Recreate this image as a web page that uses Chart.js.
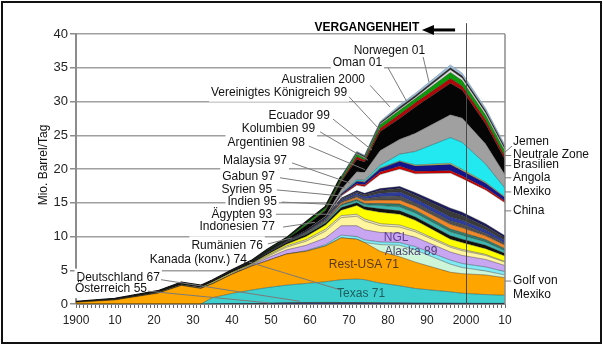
<!DOCTYPE html>
<html><head><meta charset="utf-8">
<script src="https://cdn.jsdelivr.net/npm/chart.js@4.4.1/dist/chart.umd.min.js"></script>
<style>html,body{margin:0;padding:0;background:#fff}#wrap{width:603px;height:345px;position:relative}canvas{display:block}</style>
</head><body><div id="wrap"><canvas id="c" width="603" height="345"></canvas></div>
<script>
// ---------- data (Mio. Barrel/Tag) ----------
const years = [1900,1910,1921,1927,1932,1935,1940,1945,1949,1954,1959,1964,1968,1972,1974,1978,1983,1987,1996,1999,2005,2010];

const oesterreich  = [0,0,0,0,0,0.02,0.05,0.05,0.08,0.12,0.12,0.12,0.1,0.1,0.1,0.1,0.09,0.08,0.07,0.06,0.05,0.05];
const deutschland  = [0,0,0,0,0,0.02,0.03,0.03,0.05,0.08,0.1,0.12,0.12,0.12,0.11,0.1,0.09,0.08,0.07,0.06,0.05,0.05];
const texas        = [0,0,0,0,0,0.9,1.49,1.99,2.3,2.6,2.83,3.06,3.38,3.48,3.39,2.9,2.52,2.14,1.66,1.48,1.3,1.2];
const restUSA      = [0.25,0.6,1.6,2.75,2.3,2.06,2.83,3.53,3.97,4.6,4.75,5.3,6.2,5.9,5.5,4.7,4.3,3.9,2.9,2.9,2.9,2.6];
const alaska       = [0,0,0,0,0,0,0,0,0,0,0,0,0,0,0,1.0,1.7,1.8,1.2,0.9,0.6,0.4];
const golfMexiko   = [0,0,0,0,0,0,0,0,0,0.02,0.1,0.2,0.4,0.4,0.4,0.4,0.4,0.5,0.6,0.6,0.6,0.5];
const ngl          = [0,0,0,0,0,0,0,0.1,0.4,0.6,0.8,1.0,1.4,1.6,1.5,1.4,1.4,1.4,1.2,1.2,1.1,0.9];
const kanada       = [0,0,0,0,0,0,0.05,0.08,0.2,0.4,0.6,1.0,1.2,1.4,1.3,1.0,0.9,0.8,0.7,0.7,0.6,0.5];
const rumaenien    = [0.01,0.03,0.05,0.07,0.1,0.15,0.15,0.1,0.15,0.2,0.25,0.3,0.3,0.3,0.3,0.3,0.3,0.25,0.2,0.2,0.15,0.1];
const indonesien   = [0.01,0.03,0.05,0.05,0.05,0.1,0.1,0.07,0.15,0.25,0.45,0.6,0.8,1.3,1.4,1.7,1.6,1.45,1.0,1.0,0.85,0.8];
const aegypten     = [0.03,0.09,0.2,0.25,0.2,0.15,0.2,0.2,0.2,0.2,0.3,0.3,0.4,0.4,0.4,0.5,0.5,0.5,0.5,0.5,0.5,0.4];
const indien       = [0,0,0,0,0,0,0,0,0.02,0.05,0.1,0.15,0.3,0.3,0.3,0.5,0.6,0.6,0.6,0.6,0.5,0.4];
const syrien       = [0,0,0,0,0,0,0,0,0,0,0.03,0.05,0.15,0.2,0.2,0.3,0.4,0.4,0.4,0.4,0.35,0.3];
const gabun        = [0,0,0,0,0,0,0,0,0,0.02,0.05,0.1,0.25,0.3,0.4,0.5,0.6,0.6,0.7,0.7,0.55,0.5];
const malaysia     = [0,0,0,0,0,0,0,0.02,0.05,0.08,0.15,0.2,0.2,0.3,0.3,0.5,0.6,0.5,0.5,0.5,0.4,0.3];
const argentinien  = [0,0,0,0.01,0.03,0.04,0.05,0.06,0.07,0.08,0.1,0.15,0.2,0.3,0.3,0.5,0.6,0.6,0.6,0.6,0.5,0.4];
const kolumbien    = [0,0,0,0.02,0.03,0.05,0.06,0.06,0.08,0.1,0.1,0.15,0.2,0.2,0.3,0.4,0.5,0.5,0.8,0.7,0.5,0.4];
const ecuador      = [0,0,0,0,0,0,0,0,0,0,0,0,0.1,0.2,0.2,0.3,0.3,0.4,0.5,0.5,0.4,0.3];
const china        = [0,0,0,0,0,0,0,0,0,0,0,0,0.3,0.8,1.0,2.1,2.6,2.8,5.2,5.0,5.0,4.9];
const vereinigtesK = [0,0,0,0,0,0,0,0,0,0,0,0,0.1,0.2,0.25,0.35,0.4,0.35,0.35,0.35,0.3,0.25];
const australien   = [0,0,0,0,0,0,0,0,0,0,0,0,0.15,0.35,0.4,0.5,0.7,0.8,0.9,0.8,0.7,0.5];
const oman         = [0,0,0,0,0,0,0,0,0,0,0,0,0,0.05,0.08,0.1,0.1,0.15,0.2,0.2,0.15,0.1];
const mexiko       = [0,0,0,0,0,0,0,0,0,0,0,0,0.1,0.2,0.2,0.4,1.0,2.0,3.8,4.0,2.7,1.3];
const norwegen     = [0,0,0,0,0,0,0,0,0,0,0.1,0.2,0.6,1.2,1.2,2.2,2.2,2.7,3.4,3.6,3.0,2.0];
const uebrige      = [0,0,0,0,0,0,0,0.05,0.12,0.2,0.7,0.85,1.2,1.8,1.5,2.8,3.1,3.9,4.65,4.15,2.95,2.25];
const angola       = [0,0,0,0,0,0,0,0,0,0,0.05,0.1,0.2,0.4,0.3,0.5,0.6,0.6,0.7,0.6,0.6,0.5];
const brasilien    = [0,0,0,0,0,0,0,0.03,0.08,0.1,0.3,0.3,0.3,0.4,0.3,0.5,0.6,0.6,0.9,0.8,0.7,0.7];
const neutraleZone = [0,0,0,0,0,0,0,0,0,0,0,0,0.05,0.1,0.1,0.15,0.2,0.2,0.4,0.4,0.35,0.3];
const sonstige     = [0,0,0,0,0,0,0,0.03,0.08,0.08,0.15,0.15,0.15,0.2,0.2,0.2,0.3,0.3,0.3,0.3,0.3,0.3];
const jemen        = [0,0,0,0,0,0,0,0,0,0,0,0,0.05,0.1,0.1,0.15,0.3,0.3,0.4,0.4,0.35,0.3];

const xTickValues = [1900,1910,1920,1930,1940,1950,1960,1970,1980,1990,2000,2010];
const xTickLabels = ['1900','10','20','30','40','50','60','70','80','90','2000','10'];
const yTickValues = [0,5,10,15,20,25,30,35,40];

// ---------- series table (bottom to top) ----------
const layers = [
  ['Österreich', oesterreich], ['Deutschland', deutschland], ['Texas', texas], ['Rest-USA', restUSA],
  ['Alaska', alaska], ['Golf von Mexiko', golfMexiko], ['NGL', ngl], ['Kanada (konv.)', kanada],
  ['Rumänien', rumaenien], ['Indonesien', indonesien], ['Ägypten', aegypten], ['Indien', indien],
  ['Syrien', syrien], ['Gabun', gabun], ['Malaysia', malaysia], ['Argentinien', argentinien],
  ['Kolumbien', kolumbien], ['Ecuador', ecuador], ['China', china], ['Vereinigtes Königreich', vereinigtesK],
  ['Australien', australien], ['Oman', oman], ['Mexiko', mexiko], ['Norwegen', norwegen],
  ['Übrige', uebrige], ['Angola', angola], ['Brasilien', brasilien], ['Neutrale Zone', neutraleZone],
  ['Sonstige', sonstige], ['Jemen', jemen]
];
const colors = ['#1B2A80','#222222','#3ECFCF','#FFA500','#CCF5D9','#7FE9F5','#C8A6F2','#FFF59E',
  '#EDE8B8','#FFFF00','#111111','#3DB8B0','#2F7E6E','#F0882A','#505050','#2E3C9C',
  '#3A3A3A','#1B1B5E','#FFFFFF','#D40000','#14148C','#D8D060','#22E8F0','#A0A0A0',
  '#050505','#B00808','#0A9A0A','#E0E0E0','#2A2A2A','#A8C4DC'];

const lastIdx = layers.length - 1;
const datasets = layers.map(([name, vals], i) => ({
  label: name,
  data: years.map((yr, k) => ({x: yr, y: vals[k]})),
  backgroundColor: colors[i],
  borderColor: i === lastIdx ? '#7f9fbf' : 'rgba(25,25,25,0.55)',
  borderWidth: 0.7,
  segment: i === lastIdx ? {
    borderColor: c => c.p0.parsed.x < 1968 ? '#111111' : '#7f9fbf',
    borderWidth: c => c.p0.parsed.x < 1968 ? 2.2 : 0.8
  } : undefined,
  fill: i === 0 ? 'origin' : '-1',
  pointRadius: 0,
  tension: 0
}));

// ---------- annotations (placed in data coordinates) ----------
const leftNotes = [
  {t:'Norwegen 01', at:[1989.5,37.6], from:[1989.0,36.6], to:[1990.5,32.9]},
  {t:'Oman 01', at:[1978.5,35.7], from:[1980.0,35.0], to:[1984.9,29.9]},
  {t:'Australien 2000', at:[1974.1,33.2], from:[1975.4,32.4], to:[1980.5,29.2]},
  {t:'Vereinigtes Königreich 99', at:[1969.5,31.3], from:[1970.0,30.7], to:[1977.9,25.8]},
  {t:'Ecuador 99', at:[1965.1,27.9], from:[1965.9,27.4], to:[1975.9,22.8]},
  {t:'Kolumbien 99', at:[1961.3,25.9], from:[1962.6,25.5], to:[1974.9,21.3]},
  {t:'Argentinien 98', at:[1958.7,23.9], from:[1959.7,23.4], to:[1974.1,19.9]},
  {t:'Malaysia 97', at:[1954.1,21.2], from:[1955.4,20.9], to:[1970.3,17.9]},
  {t:'Gabun 97', at:[1951.0,18.8], from:[1952.3,18.7], to:[1969.0,17.2]},
  {t:'Syrien 95', at:[1950.3,17.0], from:[1951.5,16.9], to:[1968.2,16.0]},
  {t:'Indien 95', at:[1951.5,15.1], from:[1952.8,15.1], to:[1967.2,14.7]},
  {t:'Ägypten 93', at:[1950.3,13.3], from:[1951.3,13.3], to:[1965.6,13.3]},
  {t:'Indonesien 77', at:[1951.0,11.4], from:[1953.1,11.4], to:[1961.3,12.1]},
  {t:'Rumänien 76', at:[1947.9,8.7], from:[1949.2,8.9], to:[1955.4,9.8]},
  {t:'Kanada (konv.) 74', at:[1943.8,6.5], from:[1944.4,6.2], to:[1967.7,2.1]},
  {t:'Deutschland 67', at:[1921.5,3.9], from:[1921.8,3.6], to:[1957.4,0.4]},
  {t:'Österreich 55', at:[1918.2,2.2], from:[1918.5,1.9], to:[1949.7,0.15]}
];
const rightNotes = [
  {t:['Jemen'], at:24.0, line:[[2011.8,23.4],[2010,22.5]]},
  {t:['Neutrale Zone'], at:22.1, line:[[2010,22.0],[2011.6,22.0]]},
  {t:['Brasilien'], at:20.6, line:[[2010,20.5],[2011.6,20.5]]},
  {t:['Angola'], at:18.7, line:[[2010,18.7],[2011.6,18.7]]},
  {t:['Mexiko'], at:16.6, line:[[2010,16.6],[2011.6,16.6]]},
  {t:['China'], at:13.8, line:[[2010,13.8],[2011.6,13.8]]},
  {t:['Golf von','Mexiko'], at:3.4, line:[[2010,3.4],[2011.6,3.4]]}
];
const innerNotes = [
  {t:'NGL', at:[1982.1,9.8], c:'#5E3F8F'},
  {t:'Alaska 89', at:[1985.9,7.7], c:'#534273'},
  {t:'Rest-USA 71', at:[1973.8,5.8], c:'#5A3A12'},
  {t:'Texas 71', at:[1973.1,1.6], c:'#1F5F5F'}
];
const pastNote = {t:'VERGANGENHEIT', at:[1974.6,40.9], arrowFrom:[1997.2,40.6], arrowTo:[1988.7,40.6], lineYear:2000, lineTop:41.6};

const FONT = '"Liberation Sans", Arial, Helvetica, sans-serif';
Chart.defaults.font.family = FONT;

const notesPlugin = {
  id: 'notes',
  beforeDatasetsDraw(chart) {
    // white label backgrounds: hide grid lines behind the left labels
    const {ctx, scales: {x, y}} = chart;
    ctx.save();
    ctx.font = '12px ' + FONT;
    ctx.fillStyle = '#ffffff';
    leftNotes.forEach(n => {
      const w = ctx.measureText(n.t).width;
      ctx.fillRect(x.getPixelForValue(n.at[0]) - w - 2, y.getPixelForValue(n.at[1]) - 9, w + 4, 18);
    });
    ctx.restore();
  },
  afterDatasetsDraw(chart) {
    const {ctx, chartArea: a, scales: {x, y}} = chart;
    const px = v => x.getPixelForValue(v), py = v => y.getPixelForValue(v);
    ctx.save();
    // right frame of plot
    ctx.strokeStyle = '#8c8c8c'; ctx.lineWidth = 1.5;
    ctx.beginPath(); ctx.moveTo(a.right, a.top); ctx.lineTo(a.right, a.bottom); ctx.stroke();
    // 2000 line
    ctx.strokeStyle = '#4a4a4a'; ctx.lineWidth = 1;
    const x2k = Math.round(px(pastNote.lineYear)) + 0.5;
    ctx.beginPath(); ctx.moveTo(x2k, py(pastNote.lineTop)); ctx.lineTo(x2k, a.bottom); ctx.stroke();

    ctx.font = '12px ' + FONT;
    ctx.textBaseline = 'middle';
    // leader lines
    ctx.strokeStyle = '#7a7a7a'; ctx.lineWidth = 1;
    leftNotes.forEach(n => {
      ctx.beginPath(); ctx.moveTo(px(n.from[0]), py(n.from[1])); ctx.lineTo(px(n.to[0]), py(n.to[1])); ctx.stroke();
    });
    rightNotes.forEach(n => {
      ctx.beginPath(); ctx.moveTo(px(n.line[0][0]), py(n.line[0][1])); ctx.lineTo(px(n.line[1][0]), py(n.line[1][1])); ctx.stroke();
    });
    // texts
    ctx.fillStyle = '#111';
    ctx.textAlign = 'right';
    leftNotes.forEach(n => ctx.fillText(n.t, px(n.at[0]), py(n.at[1])));
    ctx.textAlign = 'left';
    rightNotes.forEach(n => {
      n.t.forEach((s, k) => ctx.fillText(s, a.right + 8, py(n.at) + k * 14));
    });
    ctx.textAlign = 'center';
    innerNotes.forEach(n => { ctx.fillStyle = n.c; ctx.fillText(n.t, px(n.at[0]), py(n.at[1])); });
    // VERGANGENHEIT + arrow
    ctx.fillStyle = '#000';
    ctx.font = 'bold 12px ' + FONT;
    ctx.fillText(pastNote.t, px(pastNote.at[0]), py(pastNote.at[1]));
    const ax0 = px(pastNote.arrowFrom[0]), ax1 = px(pastNote.arrowTo[0]), ay = py(pastNote.arrowFrom[1]);
    ctx.strokeStyle = '#000'; ctx.lineWidth = 3;
    ctx.beginPath(); ctx.moveTo(ax0, ay); ctx.lineTo(ax1 + 8, ay); ctx.stroke();
    ctx.beginPath(); ctx.moveTo(ax1, ay); ctx.lineTo(ax1 + 12, ay - 5); ctx.lineTo(ax1 + 12, ay + 5); ctx.closePath(); ctx.fill();
    // y title
    ctx.save();
    ctx.font = '12px ' + FONT; ctx.fillStyle = '#111';
    ctx.translate(44, (a.top + a.bottom) / 2 - 4); ctx.rotate(-Math.PI / 2);
    ctx.fillText('Mio. Barrel/Tag', 0, 0);
    ctx.restore();
    ctx.restore();
  },
  afterDraw(chart) {
    const ctx = chart.ctx;
    ctx.save();
    ctx.strokeStyle = '#111'; ctx.lineWidth = 2;
    ctx.strokeRect(2, 2, 599, 341);
    ctx.restore();
  }
};

new Chart(document.getElementById('c'), {
  type: 'line',
  data: { datasets },
  options: {
    responsive: false, animation: false, devicePixelRatio: 1,
    layout: { padding: { top: 34, right: 98, left: 0, bottom: 0 } },
    plugins: { legend: {display: false}, tooltip: {enabled: false}, filler: {propagate: false} },
    scales: {
      x: {
        type: 'linear', min: 1900, max: 2010,
        ticks: {
          stepSize: 1, autoSkip: false, maxRotation: 0, minRotation: 0, padding: 5,
          color: '#222', font: {size: 12},
          callback: v => { const i = xTickValues.indexOf(Math.round(v)); return i >= 0 ? xTickLabels[i] : ''; }
        },
        grid: { drawOnChartArea: false, tickLength: 4, color: '#666', tickColor: '#666' },
        border: { color: '#888', width: 1 },
        afterFit: s => { s.height = 41; }
      },
      y: {
        stacked: true, min: 0, max: 40,
        afterBuildTicks: s => { s.ticks = yTickValues.map(v => ({value: v})); },
        ticks: { padding: 2, color: '#222', font: {size: 13} },
        grid: { color: '#a0a0a0', lineWidth: 1.5, tickLength: 6, tickColor: '#8c8c8c' },
        border: { color: '#8c8c8c', width: 2 },
        afterFit: s => { s.width = 76; }
      }
    }
  },
  plugins: [notesPlugin]
});
</script>
</body></html>
